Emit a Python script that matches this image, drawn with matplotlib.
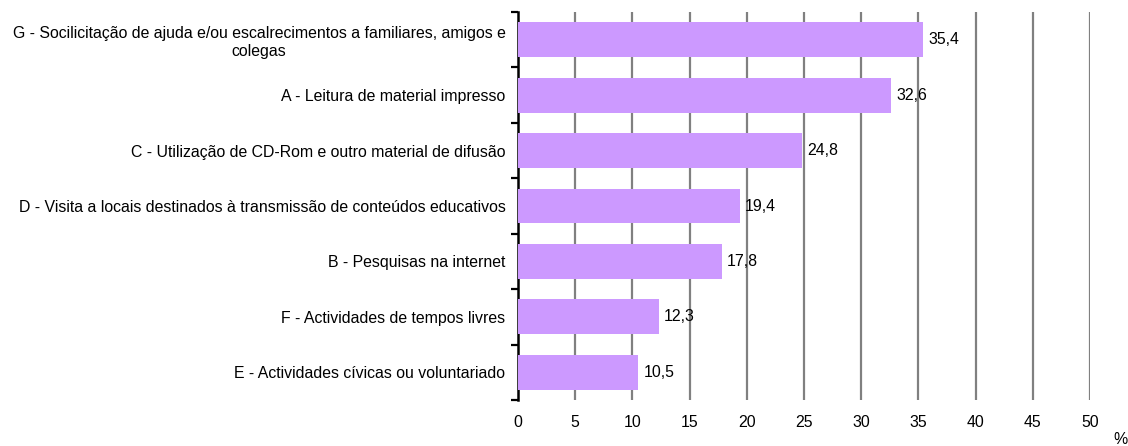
import matplotlib
matplotlib.use("Agg")
import matplotlib.pyplot as plt
import numpy as np

plt.rcParams['font.family'] = ['Liberation Sans', 'DejaVu Sans']

categories = [
    "G - Socilicitação de ajuda e/ou escalrecimentos a familiares, amigos e\ncolegas",
    "A - Leitura de material impresso",
    "C - Utilização de CD-Rom e outro material de difusão",
    "D - Visita a locais destinados à transmissão de conteúdos educativos",
    "B - Pesquisas na internet",
    "F - Actividades de tempos livres",
    "E - Actividades cívicas ou voluntariado",
]
values = [35.4, 32.6, 24.8, 19.4, 17.8, 12.3, 10.5]
value_labels = ["35,4", "32,6", "24,8", "19,4", "17,8", "12,3", "10,5"]
xticks = [0, 5, 10, 15, 20, 25, 30, 35, 40, 45, 50]

FS = 11.4

fig = plt.figure(figsize=(11.28, 4.46), dpi=100)
ax = fig.add_axes([518/1128, 1 - 400/446, (1090 - 518)/1128, (400 - 12)/446])

n = len(categories)
y = np.arange(n)[::-1]
ax.barh(y, values, height=0.63, color='#CC99FF', zorder=3)

ax.set_xlim(0, 50)
ax.set_ylim(-0.5, n - 0.5)

for xi in xticks[1:]:
    ax.axvline(xi, color='#808080', lw=1.6, zorder=1)

for yi, v, lab in zip(y, values, value_labels):
    ax.text(v + 0.45, yi, lab, va='center', ha='left', fontsize=FS, zorder=4)

ax.set_xticks(xticks)
ax.set_xticklabels([str(t) for t in xticks], fontsize=FS)
ax.tick_params(axis='x', length=0, pad=11)

ax.set_yticks(np.arange(-0.5, n, 1.0))
ax.set_yticklabels([])
ax.tick_params(axis='y', which='major', length=5, width=1.6, color='black', direction='out')
ax.set_yticks(y, minor=True)
ax.set_yticklabels(categories, minor=True, fontsize=FS, multialignment='center')
ax.tick_params(axis='y', which='minor', length=0, pad=9)

for s in ['top', 'right', 'bottom']:
    ax.spines[s].set_visible(False)
ax.spines['left'].set_linewidth(1.8)
ax.spines['left'].set_color('black')

fig.text(1120/1128, 1 - 440/446, "%", ha='center', va='center', fontsize=FS)

fig.savefig("out.png", dpi=100)
